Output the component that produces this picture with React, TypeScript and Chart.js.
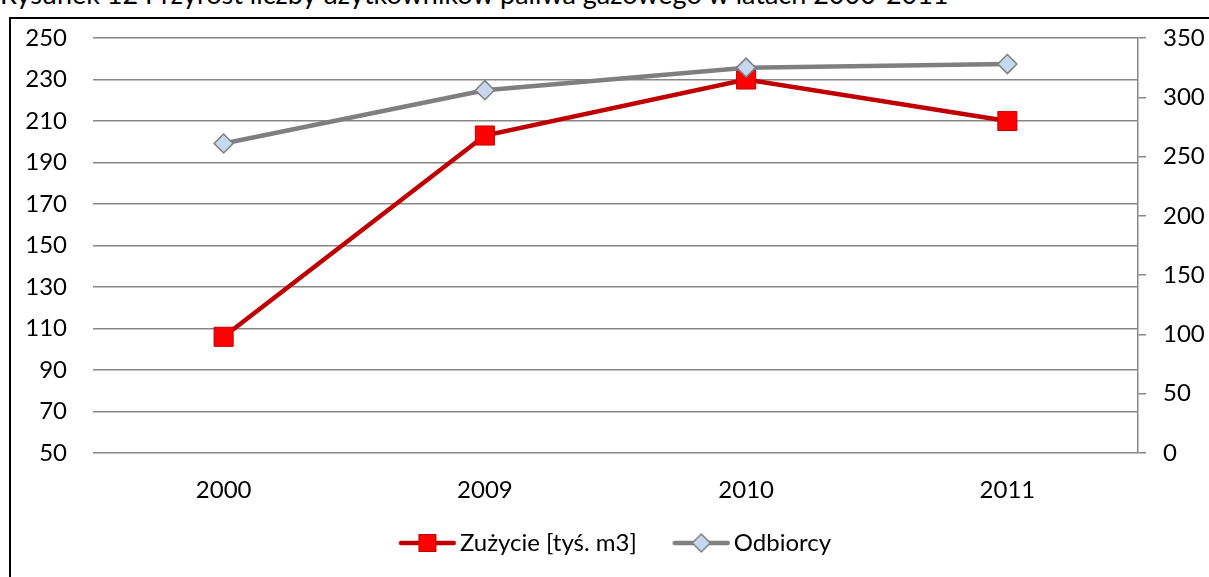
import React, { useEffect, useRef } from "react";
import { Chart, registerables } from "chart.js";

Chart.register(...registerables);

const categories = ["2000", "2009", "2010", "2011"];
const zuzycie = [106, 203, 230, 210];
const odbiorcy = [261, 306, 325, 328];
const leftTicks = { min: 50, max: 250, step: 20 };
const rightTicks = { min: 0, max: 350, step: 50 };
const seriesNames = ["Zużycie [tyś. m3]", "Odbiorcy"];
const titleText = "Rysunek 12 Przyrost liczby użytkowników paliwa gazowego w latach 2000-2011";

const RED_LINE = "#C00000";
const RED_FILL = "#FF0000";
const GRAY_LINE = "#7F7F7F";
const DIAMOND_FILL = "#C6D7EE";
const GRID = "#878787";
const FONT = "Lato";
const FS = 24;

function legendSymbol(kind: "square" | "diamond"): HTMLCanvasElement {
  const c = document.createElement("canvas");
  c.width = 76;
  c.height = 24;
  const ctx = c.getContext("2d")!;
  const x0 = 20.5, x1 = 73.5, cy = 12, cx = 47;
  ctx.lineCap = "round";
  ctx.lineWidth = 4.5;
  ctx.strokeStyle = kind === "square" ? RED_LINE : GRAY_LINE;
  ctx.beginPath();
  ctx.moveTo(x0, cy);
  ctx.lineTo(x1, cy);
  ctx.stroke();
  if (kind === "square") {
    ctx.fillStyle = RED_FILL;
    ctx.strokeStyle = RED_LINE;
    ctx.lineWidth = 1;
    ctx.fillRect(cx - 8.5, cy - 8.5, 17, 17);
    ctx.strokeRect(cx - 8.5, cy - 8.5, 17, 17);
  } else {
    ctx.fillStyle = DIAMOND_FILL;
    ctx.strokeStyle = GRAY_LINE;
    ctx.lineWidth = 1.5;
    ctx.beginPath();
    ctx.moveTo(cx, cy - 9);
    ctx.lineTo(cx + 9, cy);
    ctx.lineTo(cx, cy + 9);
    ctx.lineTo(cx - 9, cy);
    ctx.closePath();
    ctx.fill();
    ctx.stroke();
  }
  return c;
}

export default function App() {
  const ref = useRef<HTMLCanvasElement | null>(null);

  useEffect(() => {
    if (!ref.current) return;
    const symbols = [legendSymbol("square"), legendSymbol("diamond")];
    const chart = new Chart(ref.current, {
      type: "line",
      data: {
        labels: categories,
        datasets: [
          {
            label: seriesNames[0],
            data: zuzycie,
            yAxisID: "y",
            borderColor: RED_LINE,
            borderWidth: 4.5,
            pointStyle: "rect",
            pointRadius: 13.5,
            pointBackgroundColor: RED_FILL,
            pointBorderColor: RED_LINE,
            pointBorderWidth: 1,
            tension: 0,
            order: 1,
          },
          {
            label: seriesNames[1],
            data: odbiorcy,
            yAxisID: "y1",
            borderColor: GRAY_LINE,
            borderWidth: 4.5,
            pointStyle: "rectRot",
            pointRadius: 9.5,
            pointBackgroundColor: DIAMOND_FILL,
            pointBorderColor: GRAY_LINE,
            pointBorderWidth: 1.5,
            tension: 0,
            order: 0,
          },
        ],
      },
      options: {
        responsive: false,
        animation: false,
        layout: { padding: { top: 19, bottom: 12, left: 0, right: 0 } },
        scales: {
          x: {
            offset: true,
            grid: { display: false, drawTicks: false },
            border: { display: false },
            ticks: { color: "#000", font: { family: FONT, size: FS }, padding: 23 },
            afterFit: (s: any) => { s.height = 52; },
          },
          y: {
            position: "left",
            min: leftTicks.min,
            max: leftTicks.max,
            ticks: { stepSize: leftTicks.step, color: "#000", font: { family: FONT, size: FS }, padding: 26 },
            grid: { color: GRID, lineWidth: 1.5, drawTicks: false },
            border: { display: false },
            afterFit: (s: any) => { s.width = 82; s.paddingTop = 0; s.paddingBottom = 0; },
          },
          y1: {
            position: "right",
            min: rightTicks.min,
            max: rightTicks.max,
            ticks: { stepSize: rightTicks.step, color: "#000", font: { family: FONT, size: FS }, padding: 17 },
            grid: { drawOnChartArea: false, color: GRID, lineWidth: 1.5, drawTicks: true, tickLength: 8 },
            border: { display: true, color: GRID, width: 1.5 },
            afterFit: (s: any) => { s.width = 71; s.paddingTop = 0; s.paddingBottom = 0; },
          },
        },
        plugins: {
          title: { display: false },
          tooltip: { enabled: false },
          legend: {
            display: true,
            position: "bottom",
            labels: {
              usePointStyle: true,
              pointStyleWidth: 59,
              padding: 26,
              color: "#000",
              font: { family: FONT, size: FS },
              generateLabels: () =>
                seriesNames.map((name, i) => ({
                  text: name,
                  pointStyle: symbols[i],
                  fillStyle: "transparent",
                  strokeStyle: "transparent",
                  lineWidth: 0,
                  hidden: false,
                  datasetIndex: i,
                  fontColor: "#000",
                })),
            },
          },
        },
      },
    } as any);
    return () => chart.destroy();
  }, []);

  return (
    <div
      style={{
        position: "fixed",
        left: 0,
        top: 0,
        width: 1209,
        height: 577,
        overflow: "hidden",
        background: "#fff",
      }}
    >
      <div
        style={{
          position: "absolute",
          left: 0,
          top: -22,
          whiteSpace: "nowrap",
          fontFamily: FONT,
          fontSize: 27,
          lineHeight: "32px",
          color: "#000",
        }}
      >
        {titleText}
      </div>
      <div
        style={{
          position: "absolute",
          left: 9,
          top: 17,
          width: 1300,
          height: 700,
          borderLeft: "2px solid #000",
          borderTop: "2px solid #000",
        }}
      />
      <canvas
        ref={ref}
        width={1198}
        height={558}
        style={{ position: "absolute", left: 11, top: 19, width: 1198, height: 558 }}
      />
    </div>
  );
}
